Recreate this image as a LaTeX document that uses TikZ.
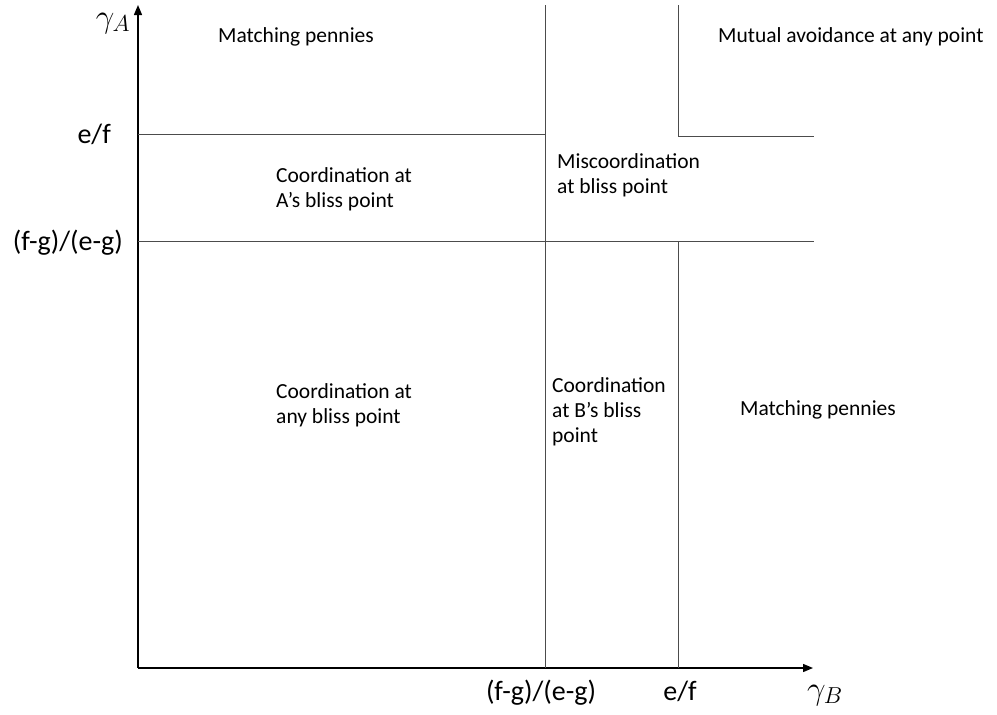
\RequirePackage{fix-cm}
\documentclass[tikz,border=0pt]{standalone}
\usepackage{fontspec}
\setmainfont{Carlito}
\usetikzlibrary{arrows.meta}

\begin{document}
\begin{tikzpicture}[x=1pt,y=-1pt]
\tikzstyle{every node}+=[inner sep=0pt]
\tikzstyle{region}=[font=\fontsize{21.5}{25}\selectfont,align=left,anchor=west]
\tikzstyle{ticklabel}=[font=\fontsize{28}{30}\selectfont,anchor=base]
\tikzstyle{axlabel}=[font=\fontsize{33}{35}\selectfont,anchor=base]
\tikzstyle{border}=[draw=black!70,line width=1pt]
\tikzstyle{axis}=[draw=black,line width=1.4pt,-{Triangle[length=10pt,width=8pt]}]
\useasboundingbox (0,0) rectangle (997,715);
% axes
\coordinate (O) at (138,668);
\coordinate (ytop) at (138,5);
\coordinate (xend) at (813,668);
\draw [axis] (O) -- (ytop);
\draw [axis] (O) -- (xend);
% region borders
\coordinate (v1top) at (545,5);
\coordinate (v1bot) at (545,668);
\coordinate (v2top) at (678,5);
\coordinate (v2mid) at (678,136);
\coordinate (v2low) at (678,241);
\coordinate (v2bot) at (678,668);
\coordinate (h1l) at (138,134);
\coordinate (h1r) at (545,134);
\coordinate (h2l) at (138,241);
\coordinate (h2r) at (814,241);
\coordinate (h3r) at (814,136);
\draw [border] (v1top) -- (v1bot);
\draw [border] (h1l) -- (h1r);
\draw [border] (h2l) -- (h2r);
\draw [border] (v2low) -- (v2bot);
\draw [border] (v2top) -- (v2mid) -- (h3r);
% axis labels
\node [axlabel] (gA) at (113,27) {$\gamma_A$};
\node [ticklabel,anchor=base east] (efA) at (111,143) {e/f};
\node [ticklabel,anchor=base east] (fgA) at (123,250) {(f-g)/(e-g)};
\node [ticklabel] (fgB) at (541,700) {(f-g)/(e-g)};
\node [ticklabel] (efB) at (680,700) {e/f};
\node [axlabel] (gB) at (825,699) {$\gamma_B$};
% regions
\node [region] (mp1) at (218,37) {Matching pennies};
\node [region] (mutual) at (718,37) {Mutual avoidance at any point};
\node [region] (coordA) at (276,189) {Coordination at\\A’s bliss point};
\node [region] (miscoord) at (557,175) {Miscoordination\\at bliss point};
\node [region] (coordany) at (276,405) {Coordination at\\any bliss point};
\node [region] (coordB) at (552,412) {Coordination\\at B’s bliss\\point};
\node [region] (mp2) at (740,410) {Matching pennies};
\end{tikzpicture}
\end{document}
